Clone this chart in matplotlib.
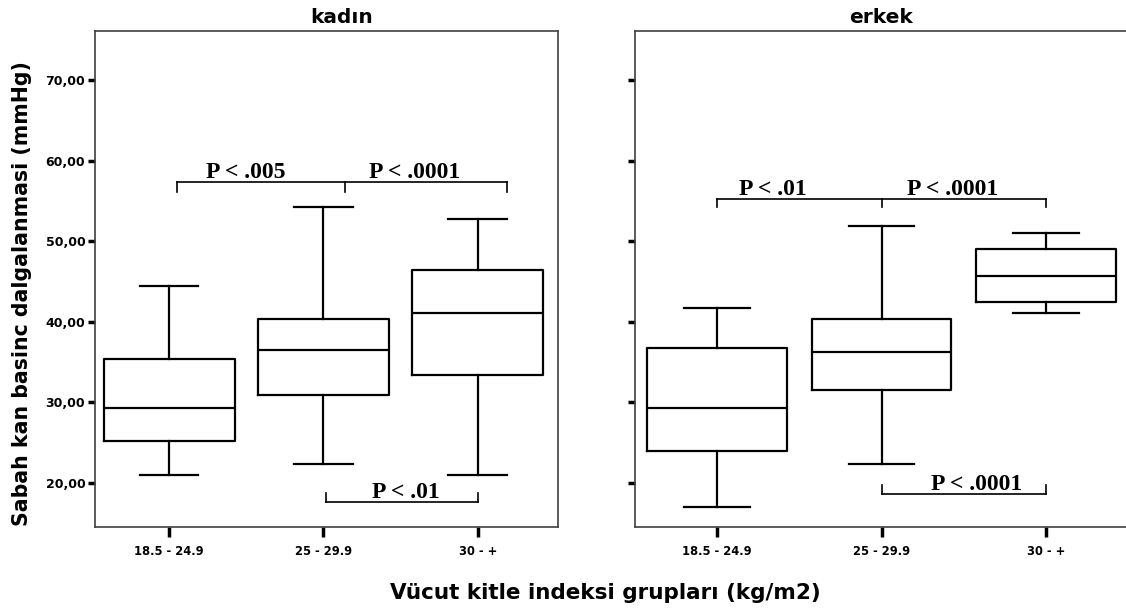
import matplotlib.pyplot as plt

# BMI groups
groups = ['18.5 - 24.9', '25 - 29.9', '30 - +']

# kadin (women) box values
kadin_low = [21.0, 22.3, 21.0]
kadin_q1 = [25.2, 30.9, 33.4]
kadin_med = [29.3, 36.5, 41.1]
kadin_q3 = [35.4, 40.3, 46.4]
kadin_high = [44.4, 54.2, 52.8]

# erkek (men) box values
erkek_low = [17.0, 22.3, 41.1]
erkek_q1 = [24.0, 31.5, 42.4]
erkek_med = [29.3, 36.2, 45.7]
erkek_q3 = [36.8, 40.3, 49.0]
erkek_high = [41.7, 51.9, 51.0]

yticks = [20, 30, 40, 50, 60, 70]
ytick_labels = ['20,00', '30,00', '40,00', '50,00', '60,00', '70,00']

kadin_p = ['P < .005', 'P < .0001', 'P < .01']
erkek_p = ['P < .01', 'P < .0001', 'P < .0001']

serif = 'Liberation Serif'
sans = 'DejaVu Sans'


def stats(low, q1, med, q3, high):
    out = []
    for i in range(len(low)):
        out.append({'whislo': low[i], 'q1': q1[i], 'med': med[i],
                    'q3': q3[i], 'whishi': high[i], 'fliers': []})
    return out


def bracket(ax, xs, y, tick, up=False):
    # horizontal line with small end/middle ticks
    ax.plot([xs[0], xs[-1]], [y, y], color='black', lw=1.2)
    for x in xs:
        ax.plot([x, x], [y, y + tick if up else y - tick], color='black', lw=1.2)


fig = plt.figure(figsize=(11.26, 6.11), dpi=100)
ax1 = fig.add_axes([0.0844, 0.1375, 0.4112, 0.8118])
ax2 = fig.add_axes([0.564, 0.1375, 0.4378, 0.8118])

lp = dict(color='black', lw=1.6)
ax1.bxp(stats(kadin_low, kadin_q1, kadin_med, kadin_q3, kadin_high),
        positions=[0, 1, 2], widths=0.85, capwidths=0.38, showfliers=False,
        boxprops=lp, medianprops=lp, whiskerprops=lp, capprops=lp)
ax2.bxp(stats(erkek_low, erkek_q1, erkek_med, erkek_q3, erkek_high),
        positions=[0, 1, 2], widths=0.85, capwidths=0.40, showfliers=False,
        boxprops=lp, medianprops=lp, whiskerprops=lp, capprops=lp)

ax1.set_xlim(-0.48, 2.52)
ax2.set_xlim(-0.5, 2.5)
for ax in [ax1, ax2]:
    ax.set_ylim(14.54, 76.08)
    ax.set_yticks(yticks)
    ax.set_xticks([0, 1, 2])
    ax.set_xticklabels(groups, fontsize=8.3, fontweight='bold', family=sans)
    ax.tick_params(axis='y', direction='out', length=5, width=2.5, labelsize=9, pad=2)
    ax.tick_params(axis='x', direction='out', length=7, width=2.5, pad=6)
    for s in ax.spines.values():
        s.set_color('#404040')
        s.set_linewidth(1.2)

ax1.set_yticklabels(ytick_labels, fontweight='bold', family=sans)
ax2.set_yticklabels([])

pt = dict(ha='center', va='baseline', fontsize=17, fontweight='bold', family=serif)

# significance brackets, kadin
bracket(ax1, [0.054, 1.139, 2.192], 57.3, 1.15)
ax1.text(0.496, 57.8, kadin_p[0], **pt)
ax1.text(1.592, 57.8, kadin_p[1], **pt)
bracket(ax1, [1.014, 2.002], 17.7, 1.1, up=True)
ax1.text(1.532, 18.1, kadin_p[2], **pt)

# significance brackets, erkek
bracket(ax2, [0.0, 1.0, 2.0], 55.2, 1.0)
ax2.text(0.337, 55.7, erkek_p[0], **pt)
ax2.text(1.431, 55.7, erkek_p[1], **pt)
bracket(ax2, [1.0, 2.0], 18.6, 1.2, up=True)
ax2.text(1.58, 19.1, erkek_p[2], **pt)

fig.text(0.3037, 0.972, 'kadın', ha='center', va='center', fontsize=14.5,
         fontweight='bold', family=sans)
fig.text(0.7824, 0.972, 'erkek', ha='center', va='center', fontsize=14.5,
         fontweight='bold', family=sans)
fig.text(0.0195, 0.519, 'Sabah kan basinc dalgalanmasi (mmHg)', rotation=90,
         ha='center', va='center', fontsize=14.8, fontweight='bold', family=sans)
fig.text(0.538, 0.0295, 'Vücut kitle indeksi grupları (kg/m2)', ha='center',
         va='center', fontsize=15.5, fontweight='bold', family=sans)

fig.savefig('out.png', dpi=100)
